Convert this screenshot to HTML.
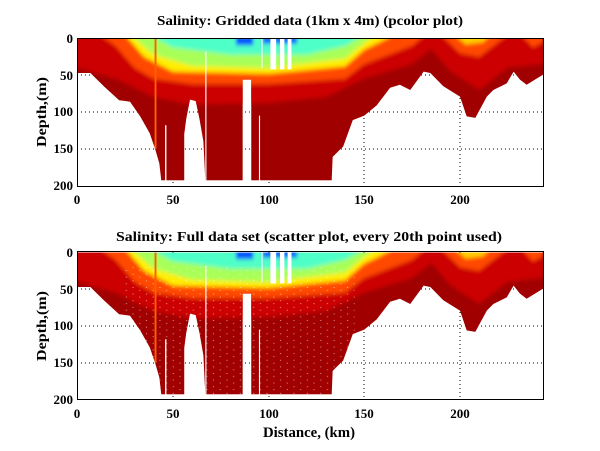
<!DOCTYPE html>
<html><head><meta charset="utf-8"><style>
html,body{margin:0;padding:0;background:#fff;}
svg{display:block;font-family:"Liberation Serif",serif;font-weight:bold;}
</style></head><body>
<svg width="600" height="451" viewBox="0 0 600 451" xmlns="http://www.w3.org/2000/svg">
<defs>
<clipPath id="bathy"><polygon points="0,0 243.5,0 243.5,49 234.8,63 231.3,56 228,45 224.4,61 217.4,70 214,79 208,108 203.5,106 200,79 191.3,65 184.5,47 181,45 174,70 168.6,63 163.5,67 156.5,91 150,105 144,111 139,147 133.5,161 133,193 91,193 91,56 86.5,56 86.5,193 67,193 66,140 64,110 62,85 59,83 57,110 56,130 56,193 44,193 43,170 41,152 38,129 33,106 27.7,86 22,84 14,65 7,47 0,47"/></clipPath>
<filter id="bl" x="-5%" y="-5%" width="110%" height="110%"><feGaussianBlur stdDeviation="0.8 3"/></filter>
<pattern id="spk" width="7" height="9" patternUnits="userSpaceOnUse">
<rect x="1" y="2" width="0.6" height="1.2" fill="#fff"/><rect x="4.5" y="6" width="0.6" height="1.2" fill="#fff"/>
</pattern>
<g id="data">
<g clip-path="url(#bathy)">
<rect x="0" y="0" width="244" height="200" fill="#a00000"/>
<g filter="url(#bl)">
<polygon fill="#cc0000" points="0,40 20,55 40,80 60,90 100,88 130,80 150,55 175,35 185,15 195,45 210,70 225,40 243.5,35 243.5,-5 0,-5"/>
<polygon fill="#ff4a00" points="0,-5 12,-5 20,10 30,40 40,55 60,62 100,62 140,55 150,35 160,25 175,10 182,-5 190,-5 200,20 210,25 220,5 225,-5 232,-5 238,12 243.5,5 243.5,-5"/>
<polygon fill="#ffee00" points="25,-5 35,25 50,45 100,48 140,38 150,15 158,5 165,-5"/>
<polygon fill="#ffd000" points="197,-5 203,8 212,5 216,-5"/>
<polygon fill="#a8ff58" points="28,-5 40,22 60,37 100,40 140,27 150,6 156,-5"/>
<polygon fill="#50ffc8" points="38,-5 50,12 80,22 120,22 140,10 150,-5"/>
<rect x="83" y="-3" width="9" height="12" fill="#0050ff"/>
<rect x="97" y="-3" width="18" height="10" fill="#1060ff"/>
</g>
<rect x="40.5" y="0" width="1" height="150" fill="#ff6000"/>
</g>
<g fill="#fff">
<rect x="101" y="0" width="3" height="42"/><rect x="106" y="0" width="2.3" height="42"/><rect x="110" y="0" width="2" height="42"/>
<rect x="96.3" y="0" width="0.6" height="40"/><rect x="46" y="118" width="0.7" height="76"/><rect x="67" y="18" width="0.6" height="176"/><rect x="95" y="105" width="0.6" height="89"/>
</g>
</g>
</defs>

<!-- TOP -->
<text x="157" y="25" font-size="14" textLength="306" lengthAdjust="spacingAndGlyphs">Salinity: Gridded data (1km x 4m) (pcolor plot)</text>
<g stroke="#000" stroke-width="1" stroke-dasharray="1,3">
<line x1="173" y1="38" x2="173" y2="187"/><line x1="269" y1="38" x2="269" y2="187"/><line x1="364" y1="38" x2="364" y2="187"/><line x1="460" y1="38" x2="460" y2="187"/>
<line x1="77" y1="75" x2="543" y2="75"/><line x1="77" y1="112" x2="543" y2="112"/><line x1="77" y1="149" x2="543" y2="149"/>
</g>
<g transform="translate(77,38.5) scale(1.915,0.735)"><use href="#data"/></g>
<rect x="77.5" y="38.5" width="466" height="148" fill="none" stroke="#000"/>
<g font-size="13" text-anchor="end">
<text x="73" y="43">0</text><text x="73" y="80">50</text><text x="73" y="116">100</text><text x="73" y="153">150</text><text x="73" y="190">200</text>
</g>
<g font-size="13" text-anchor="middle">
<text x="77" y="204">0</text><text x="173" y="204">50</text><text x="269" y="204">100</text><text x="364" y="204">150</text><text x="460" y="204">200</text>
</g>
<text transform="translate(46,112) rotate(-90)" font-size="14" text-anchor="middle" textLength="70" lengthAdjust="spacingAndGlyphs">Depth,(m)</text>

<!-- BOTTOM -->
<text x="116" y="241" font-size="14" textLength="386" lengthAdjust="spacingAndGlyphs">Salinity: Full data set (scatter plot, every 20th point used)</text>
<g stroke="#000" stroke-width="1" stroke-dasharray="1,3">
<line x1="173" y1="252" x2="173" y2="400"/><line x1="269" y1="252" x2="269" y2="400"/><line x1="364" y1="252" x2="364" y2="400"/><line x1="460" y1="252" x2="460" y2="400"/>
<line x1="77" y1="289" x2="543" y2="289"/><line x1="77" y1="326" x2="543" y2="326"/><line x1="77" y1="363" x2="543" y2="363"/>
</g>
<g transform="translate(77,252.5) scale(1.915,0.735)"><use href="#data"/>
<g clip-path="url(#bathy)"><rect x="25" y="20" width="120" height="175" fill="url(#spk)" opacity="0.6"/></g></g>
<rect x="77.5" y="251.5" width="466" height="148" fill="none" stroke="#000"/>
<g font-size="13" text-anchor="end">
<text x="73" y="257">0</text><text x="73" y="294">50</text><text x="73" y="330">100</text><text x="73" y="367">150</text><text x="73" y="404">200</text>
</g>
<g font-size="13" text-anchor="middle">
<text x="77" y="418">0</text><text x="173" y="418">50</text><text x="269" y="418">100</text><text x="364" y="418">150</text><text x="460" y="418">200</text>
</g>
<text transform="translate(46,326) rotate(-90)" font-size="14" text-anchor="middle" textLength="70" lengthAdjust="spacingAndGlyphs">Depth,(m)</text>
<text x="263" y="437" font-size="15" textLength="92" lengthAdjust="spacingAndGlyphs">Distance, (km)</text>
</svg>
</body></html>
